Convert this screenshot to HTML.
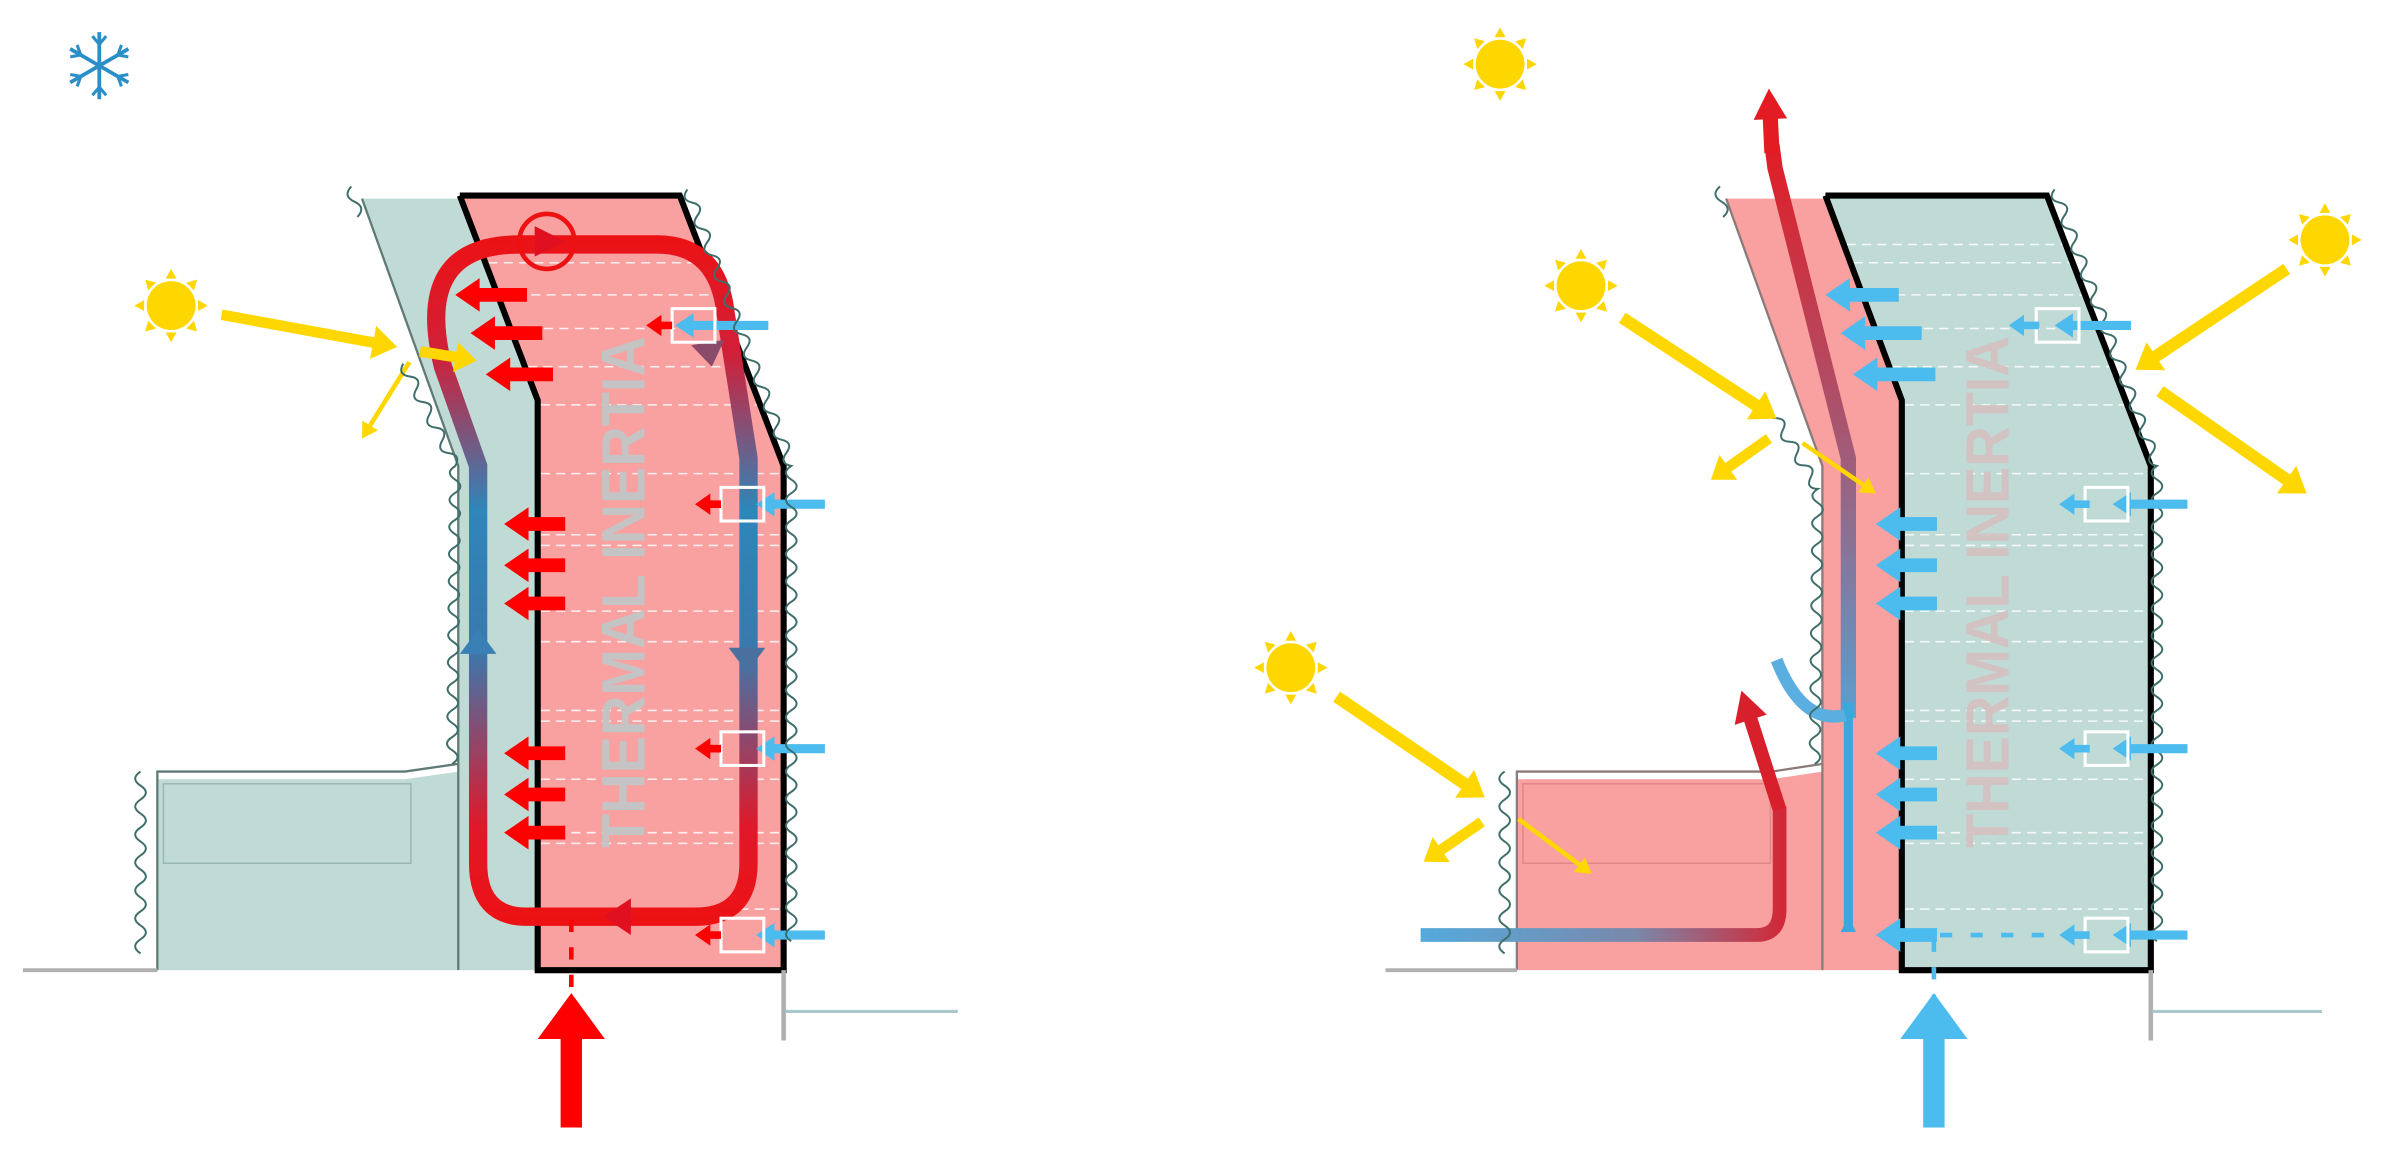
<!DOCTYPE html>
<html><head><meta charset="utf-8"><style>
html,body{margin:0;padding:0;background:#fff;width:2383px;height:1152px;overflow:hidden}
svg{display:block}
</style></head><body>
<svg id="s" width="2383" height="1152" viewBox="0 0 1560 754" preserveAspectRatio="none" xmlns="http://www.w3.org/2000/svg">
<defs>
<linearGradient id="loopG" gradientUnits="userSpaceOnUse" x1="0" y1="150" x2="0" y2="610">
<stop offset="0" stop-color="#ee1111"/><stop offset="0.18" stop-color="#d0203a"/><stop offset="0.4" stop-color="#2e86bb"/><stop offset="0.6" stop-color="#3b78ad"/><stop offset="0.85" stop-color="#e0182a"/><stop offset="1" stop-color="#ee1111"/>
</linearGradient>
<linearGradient id="upG" gradientUnits="userSpaceOnUse" x1="0" y1="90" x2="0" y2="470">
<stop offset="0" stop-color="#e31b23"/><stop offset="0.5" stop-color="#a85570"/><stop offset="1" stop-color="#5a9fd0"/>
</linearGradient>
<linearGradient id="lowG" gradientUnits="userSpaceOnUse" x1="930" y1="0" x2="1165" y2="0">
<stop offset="0" stop-color="#55aadd"/><stop offset="0.6" stop-color="#7a88aa"/><stop offset="1" stop-color="#d02a3a"/>
</linearGradient>
</defs>
<!-- left building -->
<polygon points="237,130 301,130 352,262 352,635 103,635 103,510 265,510 300,505 300,305" fill="#c0dbd6"/>
<polyline points="237,130 300,305 300,635" fill="none" stroke="#607a76" stroke-width="1.5"/>
<polyline points="103,635 103,505 265,505 300,500" fill="none" stroke="#607a76" stroke-width="1.5"/>
<rect x="107" y="513" width="162" height="52" fill="none" stroke="#9ab8b3" stroke-width="1"/>
<polygon points="301,128 445,128 513,305 513,635 352,635 352,262" fill="#f9a0a0"/>
<g id="dashL" stroke="#fff" stroke-width="1" stroke-dasharray="6,4" opacity="0.85"></g>
<text x="0" y="0" transform="translate(422,555) rotate(-90)" font-family="Liberation Sans, sans-serif" font-weight="bold" font-size="40" textLength="335" lengthAdjust="spacingAndGlyphs" fill="#c4c4c4">THERMAL INERTIA</text>
<polyline points="301,128 445,128 513,305 513,635 352,635 352,262 301,128" fill="none" stroke="#000" stroke-width="4" stroke-linejoin="miter"/>
<path d="M313,425 L313,305 L290,240 Q270,160 340,160 L430,160 Q470,160 475,205 L490,300 L490,565 Q490,600 455,600 L345,600 Q313,600 313,565 Z" fill="none" stroke="url(#loopG)" stroke-width="12"/>
<circle cx="358" cy="158" r="18" fill="none" stroke="#ee1111" stroke-width="3"/>
<!-- right building -->
<polygon points="1130,130 1195,130 1245,262 1245,635 993,635 993,510 1160,510 1193,505 1193,305" fill="#f9a0a0"/>
<polyline points="1130,130 1193,305 1193,635" fill="none" stroke="#8a7a7a" stroke-width="1.5"/>
<polyline points="993,635 993,505 1160,505 1193,500" fill="none" stroke="#8a7a7a" stroke-width="1.5"/>
<rect x="997" y="513" width="162" height="52" fill="none" stroke="#e08888" stroke-width="1"/>
<polygon points="1195,128 1340,128 1408,305 1408,635 1245,635 1245,262" fill="#c0dbd6"/>
<g id="dashR" stroke="#fff" stroke-width="1" stroke-dasharray="6,4" opacity="0.85"></g>
<text x="0" y="0" transform="translate(1315,555) rotate(-90)" font-family="Liberation Sans, sans-serif" font-weight="bold" font-size="40" textLength="335" lengthAdjust="spacingAndGlyphs" fill="#d4c0c0" opacity="0.9">THERMAL INERTIA</text>
<polyline points="1195,128 1340,128 1408,305 1408,635 1245,635 1245,262 1195,128" fill="none" stroke="#000" stroke-width="4"/>
<path d="M1210,470 L1210,300 L1162,110 L1160,95" fill="none" stroke="url(#upG)" stroke-width="10"/>
<line x1="1210" y1="460" x2="1210" y2="610" stroke="#3aa8dd" stroke-width="6"/>
<path d="M1163,432 Q1180,475 1208,468" fill="none" stroke="#5aaee0" stroke-width="8"/>
<path d="M930,612 L1150,612 Q1165,612 1165,595 L1165,528" fill="none" stroke="url(#lowG)" stroke-width="9"/>
<g id="top"></g>
</svg>
<script>
var NS="http://www.w3.org/2000/svg";
function el(parent,tag,attrs){var e=document.createElementNS(NS,tag);for(var k in attrs)e.setAttribute(k,attrs[k]);document.getElementById(parent).appendChild(e);return e;}
function arrow(p,x1,y1,x2,y2,w,c,hl,hw){var dx=x2-x1,dy=y2-y1,L=Math.hypot(dx,dy),ux=dx/L,uy=dy/L,nx=-uy,ny=ux;
var bx=x2-ux*hl,by=y2-uy*hl;
var pts=[[x1+nx*w/2,y1+ny*w/2],[bx+nx*w/2,by+ny*w/2],[bx+nx*hw/2,by+ny*hw/2],[x2,y2],[bx-nx*hw/2,by-ny*hw/2],[bx-nx*w/2,by-ny*w/2],[x1-nx*w/2,y1-ny*w/2]];
el(p,"polygon",{points:pts.map(function(q){return q[0].toFixed(1)+","+q[1].toFixed(1)}).join(" "),fill:c});}
function wave(p,pts,amp,step){var d="";for(var i=0;i<pts.length-1;i++){var a=pts[i],b=pts[i+1],dx=b[0]-a[0],dy=b[1]-a[1],L=Math.hypot(dx,dy),n=Math.max(1,Math.round(L/step)),ux=dx/n,uy=dy/n,nx=-dy/L,ny=dx/L;
if(i==0)d+="M"+a[0]+","+a[1];for(var j=0;j<n;j++){var s=(j%2?-1:1)*amp;var cx=a[0]+ux*(j+0.5)+nx*s*2,cy=a[1]+uy*(j+0.5)+ny*s*2;d+=" Q"+cx.toFixed(1)+","+cy.toFixed(1)+" "+(a[0]+ux*(j+1)).toFixed(1)+","+(a[1]+uy*(j+1)).toFixed(1);}}
el(p,"path",{d:d,fill:"none",stroke:"#3e6e6a","stroke-width":1.3});}
function sun(p,cx,cy){el(p,"circle",{cx:cx,cy:cy,r:16,fill:"#ffd700"});for(var i=0;i<8;i++){var a=i*Math.PI/4,r1=18,r2=24;var x=cx+Math.cos(a)*r2,y=cy+Math.sin(a)*r2,xa=cx+Math.cos(a-0.2)*r1,ya=cy+Math.sin(a-0.2)*r1,xb=cx+Math.cos(a+0.2)*r1,yb=cy+Math.sin(a+0.2)*r1;el(p,"polygon",{points:xa+","+ya+" "+x+","+y+" "+xb+","+yb,fill:"#ffd700"});}}
function box(p,x,y){el(p,"rect",{x:x,y:y,width:28,height:22,fill:"none",stroke:"#fff","stroke-width":2});}
var Y="#ffd700",R="#ff0000",B="#4cbbee";
[160,172,193,215,240,265,310,350,357,400,420,465,472,510,545,552,595].forEach(function(y){
 var xl=y<262?301+(y-128)*51/134:352, xr=y<305?445+(y-128)*68/177:513;
 el("dashL","line",{x1:xl+2,y1:y,x2:xr-2,y2:y});
 var xl2=y<262?1195+(y-128)*50/134:1245, xr2=y<305?1340+(y-128)*68/177:1408;
 el("dashR","line",{x1:xl2+2,y1:y,x2:xr2-2,y2:y});});
var T="top";
(function(){var cx=65,cy=43;for(var i=0;i<3;i++){var a=i*Math.PI/3+Math.PI/2;var x1=cx+Math.cos(a)*22,y1=cy+Math.sin(a)*22,x2=cx-Math.cos(a)*22,y2=cy-Math.sin(a)*22;el(T,"line",{x1:x1,y1:y1,x2:x2,y2:y2,stroke:"#2a8fc8","stroke-width":2.5});}
for(var k=0;k<6;k++){var a=k*Math.PI/3+Math.PI/2;var mx=cx+Math.cos(a)*14,my=cy+Math.sin(a)*14;for(var s=-1;s<=1;s+=2){var b=a+s*0.7+Math.PI;el(T,"line",{x1:mx,y1:my,x2:mx+Math.cos(b)*-7,y2:my+Math.sin(b)*-7,stroke:"#2a8fc8","stroke-width":2});}}})();
arrow(T,350,158,370,158,0,"#e01020",20,20);
arrow(T,313,440,313,412,0,"#3a7fb5",16,24);
arrow(T,489,410,489,440,0,"#4a70a0",16,24);
arrow(T,418,600,395,600,0,"#e01020",18,24);
arrow(T,461,210,466,240,0,"#8a4a6a",16,22);
[[345,193,298],[355,218,308],[362,245,318],[370,343,330],[370,370,330],[370,395,330],[370,493,330],[370,520,330],[370,545,330]].forEach(function(a){arrow(T,a[0],a[1],a[2],a[1],9,R,16,22);});
[[503,213,442],[540,330,495],[540,490,495],[540,612,495]].forEach(function(a){arrow(T,a[0],a[1],a[2],a[1],6,B,12,16);});
box(T,440,202);box(T,472,319);box(T,472,479);box(T,472,601);
arrow(T,440,213,423,213,5,R,10,14);arrow(T,472,330,455,330,5,R,10,14);arrow(T,472,490,455,490,5,R,10,14);arrow(T,472,612,455,612,5,R,10,14);
sun(T,112,200);
arrow(T,145,206,260,227,7,Y,16,22);arrow(T,275,230,312,236,7,Y,14,20);arrow(T,268,237,237,287,3,Y,10,12);
el(T,"line",{x1:374,y1:602,x2:374,y2:652,stroke:R,"stroke-width":3,"stroke-dasharray":"8,10"});
arrow(T,374,738,374,650,14,R,30,44);
el(T,"line",{x1:15,y1:635,x2:103,y2:635,stroke:"#b0b0b0","stroke-width":2.5});
el(T,"line",{x1:513,y1:635,x2:513,y2:681,stroke:"#b0b0b0","stroke-width":3});
el(T,"line",{x1:514,y1:662,x2:627,y2:662,stroke:"#a8c8cc","stroke-width":2});
el(T,"line",{x1:907,y1:635,x2:993,y2:635,stroke:"#b0b0b0","stroke-width":2.5});
el(T,"line",{x1:1408,y1:635,x2:1408,y2:681,stroke:"#b0b0b0","stroke-width":3});
el(T,"line",{x1:1409,y1:662,x2:1520,y2:662,stroke:"#a8c8cc","stroke-width":2});
var A=3.5,S=9;
wave(T,[[230,122],[234,142]],A,S);
wave(T,[[450,124],[518,305],[518,616]],A,S);
wave(T,[[264,238],[298,305],[296,500]],A,S);
wave(T,[[92,505],[92,624]],A,S);
wave(T,[[1126,122],[1128,142]],A,S);
wave(T,[[1345,124],[1412,305],[1412,616]],A,S);
wave(T,[[1158,266],[1190,320],[1188,500]],A,S);
wave(T,[[985,505],[985,624]],A,S);
arrow(T,1210,612,1210,600,0,"#3aa8dd",10,10);
arrow(T,1160,100,1158,58,10,"#e31b23",20,22);
arrow(T,1165,530,1140,452,9,"#d8202c",20,22);
[[1243,193,1195],[1258,218,1205],[1267,245,1213],[1268,343,1228],[1268,370,1228],[1268,395,1228],[1268,493,1228],[1268,520,1228],[1268,545,1228],[1268,612,1228]].forEach(function(a){arrow(T,a[0],a[1],a[2],a[1],9,B,16,22);});
[[1395,213,1345],[1432,330,1383],[1432,490,1383],[1432,612,1383]].forEach(function(a){arrow(T,a[0],a[1],a[2],a[1],6,B,12,16);});
box(T,1333,202);box(T,1365,319);box(T,1365,479);box(T,1365,601);
arrow(T,1335,213,1315,213,5,B,10,14);arrow(T,1368,330,1348,330,5,B,10,14);arrow(T,1368,490,1348,490,5,B,10,14);arrow(T,1368,612,1348,612,5,B,10,14);
el(T,"line",{x1:1250,y1:612,x2:1345,y2:612,stroke:B,"stroke-width":3,"stroke-dasharray":"8,12"});
el(T,"line",{x1:1266,y1:615,x2:1266,y2:652,stroke:B,"stroke-width":3,"stroke-dasharray":"8,10"});
arrow(T,1266,738,1266,650,14,B,30,44);
sun(T,982,42);sun(T,1035,187);sun(T,845,437);sun(T,1522,157);
arrow(T,1062,208,1163,274,8,Y,16,22);arrow(T,1158,287,1120,314,7,Y,14,20);arrow(T,1180,290,1228,323,3,Y,10,12);
arrow(T,1497,176,1398,242,8,Y,16,22);arrow(T,1414,256,1510,323,8,Y,16,22);
arrow(T,875,456,972,522,8,Y,16,22);arrow(T,970,538,932,564,7,Y,14,20);arrow(T,994,536,1042,572,3,Y,10,12);
</script>
</body></html>
